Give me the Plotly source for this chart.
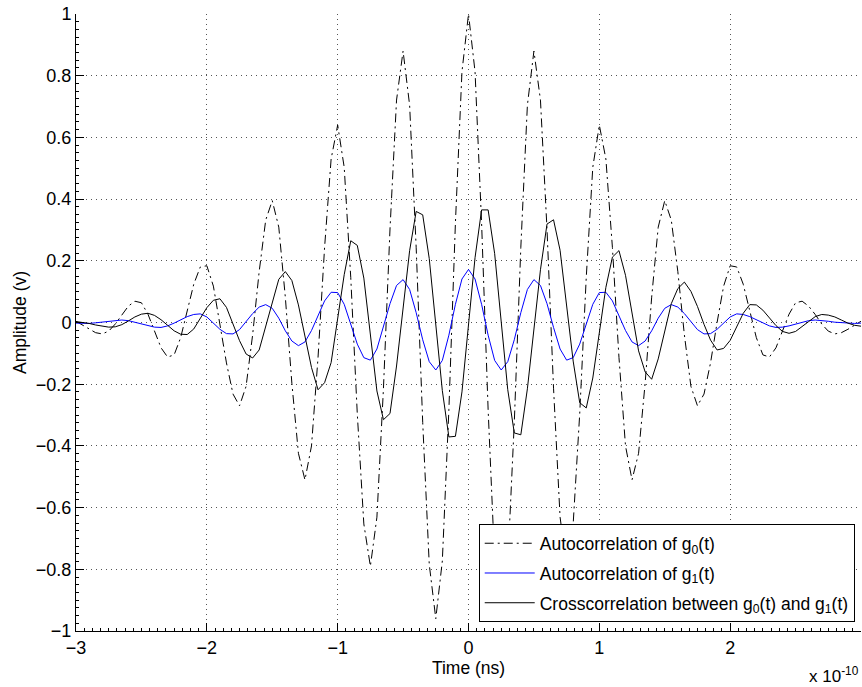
import plotly.graph_objects as go

# time base in units of 1e-10 s
time_e10 = [round(-3 + 0.05 * i, 2) for i in range(121)]

auto_g0 = [
    0.004, -0.008, -0.022, -0.033, -0.037, -0.028, -0.005, 0.026, 0.053, 0.069,
    0.064, 0.027, -0.028, -0.082, -0.112, -0.105, -0.049, 0.038, 0.124, 0.180,
    0.184, 0.118, 0.000, -0.131, -0.232, -0.270, -0.207, -0.040, 0.165, 0.332,
    0.395, 0.309, 0.082, -0.197, -0.424, -0.510, -0.400, -0.113, 0.243, 0.530,
    0.640, 0.503, 0.146, -0.296, -0.653, -0.790, -0.631, -0.213, 0.303, 0.721,
    0.880, 0.704, 0.244, -0.324, -0.784, -0.960, -0.773, -0.283, 0.323, 0.813,
    1.000,
    0.813, 0.323, -0.283, -0.773, -0.960, -0.784, -0.324, 0.244, 0.704, 0.880,
    0.721, 0.303, -0.213, -0.631, -0.790, -0.653, -0.296, 0.146, 0.503, 0.640,
    0.530, 0.243, -0.113, -0.400, -0.510, -0.424, -0.197, 0.082, 0.309, 0.395,
    0.332, 0.165, -0.040, -0.207, -0.270, -0.232, -0.131, 0.000, 0.118, 0.184,
    0.180, 0.124, 0.038, -0.049, -0.105, -0.112, -0.082, -0.028, 0.027, 0.064,
    0.069, 0.053, 0.026, -0.005, -0.028, -0.037, -0.033, -0.022, -0.008, 0.004,
]

auto_g1 = [
    -0.002, -0.003, -0.003, -0.001, 0.001, 0.004, 0.007, 0.008, 0.006, 0.001,
    -0.005, -0.011, -0.015, -0.016, -0.011, -0.002, 0.009, 0.019, 0.026, 0.028,
    0.018, -0.001, -0.022, -0.036, -0.037, -0.023, 0.002, 0.029, 0.050, 0.058,
    0.046, 0.014, -0.027, -0.060, -0.075, -0.063, -0.026, 0.024, 0.070, 0.098,
    0.097, 0.059, -0.004, -0.070, -0.114, -0.122, -0.086, -0.016, 0.061, 0.120,
    0.139, 0.107, 0.032, -0.056, -0.127, -0.154, -0.123, -0.041, 0.059, 0.141,
    0.172,
    0.141, 0.059, -0.041, -0.123, -0.154, -0.127, -0.056, 0.032, 0.107, 0.139,
    0.120, 0.061, -0.016, -0.086, -0.122, -0.114, -0.070, -0.004, 0.059, 0.097,
    0.098, 0.070, 0.024, -0.026, -0.063, -0.075, -0.060, -0.027, 0.014, 0.046,
    0.058, 0.050, 0.029, 0.002, -0.023, -0.037, -0.036, -0.022, -0.001, 0.018,
    0.028, 0.026, 0.019, 0.009, -0.002, -0.011, -0.016, -0.015, -0.011, -0.005,
    0.001, 0.006, 0.008, 0.007, 0.004, 0.001, -0.001, -0.003, -0.003, -0.002,
]

cross_g0_g1 = [
    0.003, 0.001, -0.003, -0.008, -0.012, -0.015, -0.014, -0.007, 0.005, 0.018,
    0.027, 0.030, 0.023, 0.009, -0.009, -0.027, -0.038, -0.039, -0.021, 0.012,
    0.048, 0.072, 0.077, 0.049, -0.002, -0.059, -0.102, -0.115, -0.089, -0.012,
    0.072, 0.140, 0.165, 0.136, 0.057, -0.048, -0.146, -0.218, -0.195, -0.130,
    0.010, 0.155, 0.265, 0.250, 0.144, -0.044, -0.222, -0.315, -0.295, -0.141,
    0.050, 0.233, 0.360, 0.349, 0.207, -0.007, -0.221, -0.371, -0.369, -0.225,
    -0.015,
    0.210, 0.365, 0.365, 0.223, 0.003, -0.218, -0.358, -0.364, -0.215, -0.023,
    0.171, 0.319, 0.333, 0.234, 0.061, -0.125, -0.260, -0.277, -0.180, -0.036,
    0.114, 0.212, 0.233, 0.153, 0.031, -0.092, -0.160, -0.184, -0.118, -0.030,
    0.061, 0.110, 0.131, 0.101, 0.052, -0.006, -0.057, -0.089, -0.084, -0.058,
    -0.014, 0.030, 0.058, 0.057, 0.040, 0.015, -0.010, -0.029, -0.035, -0.029,
    -0.014, 0.003, 0.019, 0.026, 0.024, 0.018, 0.008, -0.002, -0.009, -0.012,
]

series_names = [
    "Autocorrelation of g<sub>0</sub>(t)",
    "Autocorrelation of g<sub>1</sub>(t)",
    "Crosscorrelation between g<sub>0</sub>(t) and g<sub>1</sub>(t)",
]

x_ticks = [-3, -2, -1, 0, 1, 2, 3]
y_ticks = [-1, -0.8, -0.6, -0.4, -0.2, 0, 0.2, 0.4, 0.6, 0.8, 1]

fig = go.Figure()
fig.add_trace(go.Scatter(
    x=time_e10, y=auto_g0, mode="lines", name=series_names[0], legendgroup="a",
    line=dict(color="black", width=1, dash="9px,4px,2px,4px"),
))
fig.add_trace(go.Scatter(
    x=time_e10, y=auto_g1, mode="lines", name=series_names[1], legendgroup="b",
    line=dict(color="#0000ff", width=1),
))
fig.add_trace(go.Scatter(
    x=time_e10, y=cross_g0_g1, mode="lines", name=series_names[2], legendgroup="c",
    line=dict(color="black", width=1),
))

font_family = "Liberation Sans, Arial, Helvetica, sans-serif"

fig.update_layout(
    width=862, height=687,
    margin=dict(l=76, r=1, t=14, b=56),
    paper_bgcolor="white", plot_bgcolor="white",
    font=dict(family=font_family, size=18, color="black"),
    showlegend=True,
    legend=dict(
        x=0.992, y=0.014, xanchor="right", yanchor="bottom",
        bordercolor="black", borderwidth=1, bgcolor="white",
        itemwidth=50, tracegroupgap=4,
        font=dict(family=font_family, size=17.5, color="black"),
    ),
    annotations=[dict(
        text="x 10<sup>-10</sup>", xref="paper", yref="paper",
        x=1.0, y=-0.072, xanchor="right", yanchor="middle",
        showarrow=False, font=dict(family=font_family, size=17, color="black"),
    )],
)

fig.update_xaxes(
    range=[-3, 3], tickvals=x_ticks, ticks="inside", ticklen=8, tickcolor="black",
    tickfont=dict(size=18),
    showline=True, linecolor="black", linewidth=1, mirror=False,
    showgrid=True, gridcolor="#555555", griddash="1px,4px", gridwidth=1,
    zeroline=False,
    title=dict(text="Time (ns)", standoff=0, font=dict(size=17.5)),
    minor=dict(ticks="inside", ticklen=3, dtick=0.0625, tick0=-3, tickcolor="black", showgrid=False),
)
fig.update_yaxes(
    range=[-1, 1], tickvals=y_ticks, ticks="inside", ticklen=8, tickcolor="black",
    tickfont=dict(size=18),
    showline=True, linecolor="black", linewidth=1, mirror=False,
    showgrid=True, gridcolor="#555555", griddash="1px,4px", gridwidth=1,
    zeroline=False,
    title=dict(text="Amplitude (v)", standoff=4, font=dict(size=17.5)),
    minor=dict(ticks="inside", ticklen=3, dtick=0.025, tick0=-1, tickcolor="black", showgrid=False),
)

fig.write_html("out.html")
